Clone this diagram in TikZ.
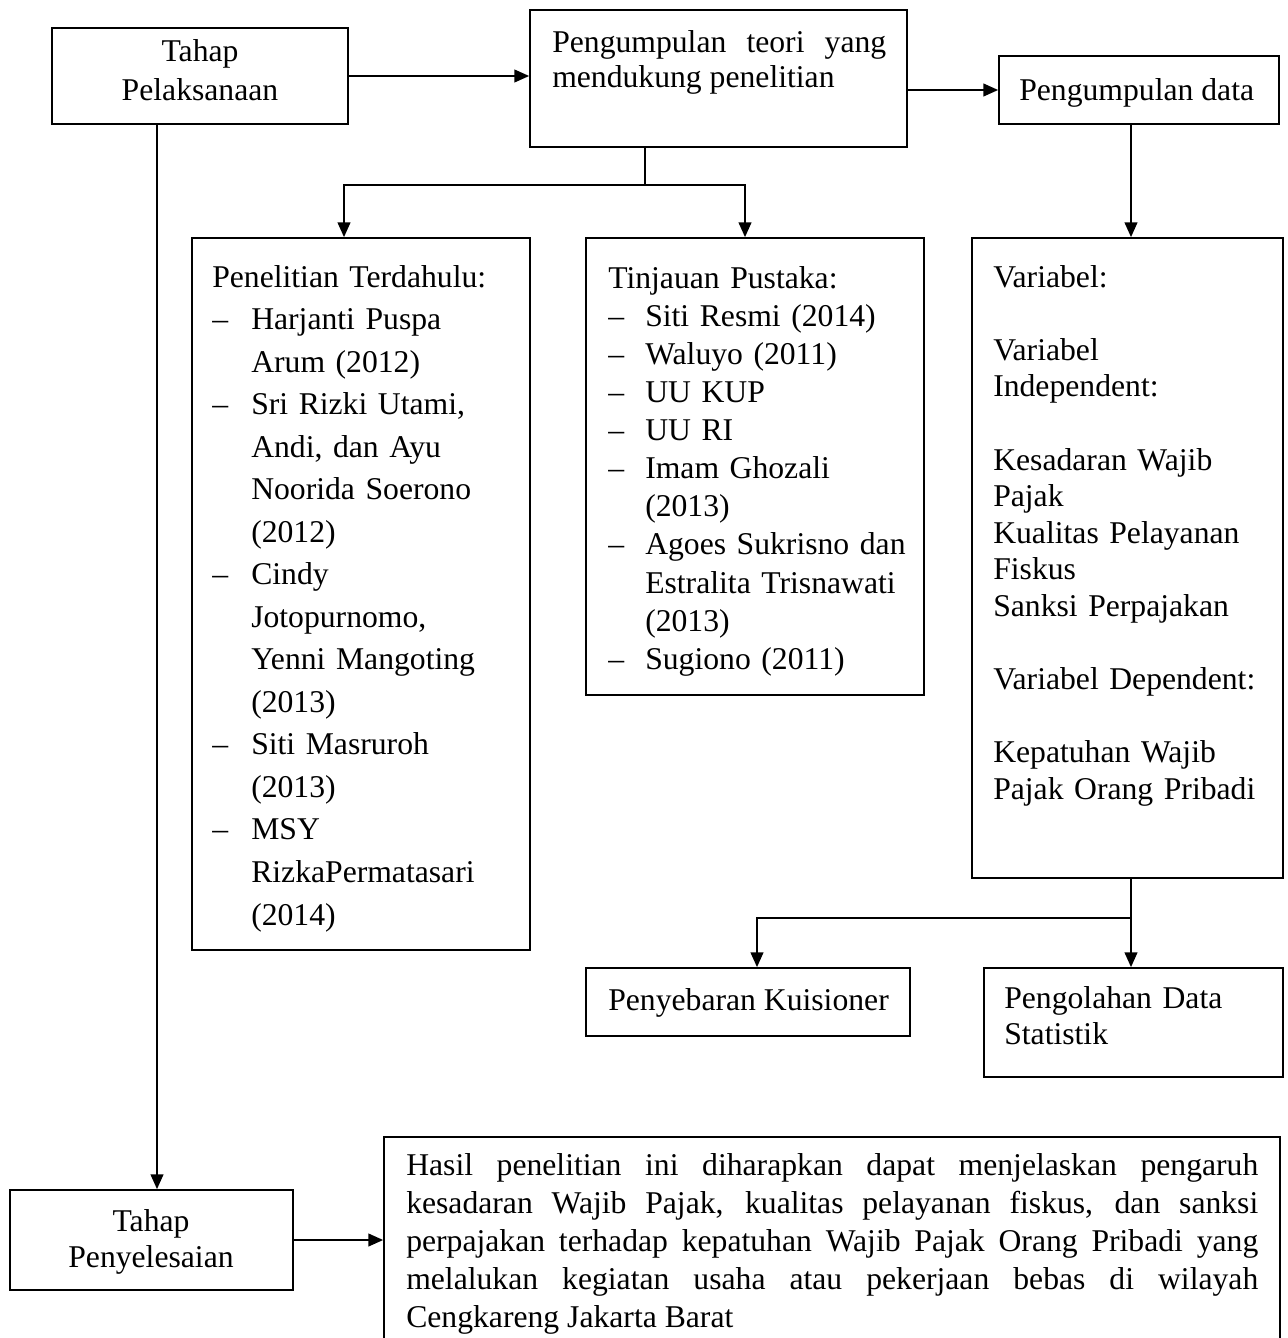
\documentclass[tikz,border=0pt]{standalone}
\usepackage{fontspec}
\setmainfont{Liberation Serif}
\usetikzlibrary{arrows.meta,fit}
\newlength{\itmind}
\newcommand{\itm}[1]{\par\hangindent=\itmind\hangafter=1\noindent\makebox[\itmind][l]{–}#1}
\begin{document}
\begin{tikzpicture}[x=0.75pt,y=-0.75pt,
  box/.style={draw, line width=1.3pt, inner sep=0pt},
  txt/.style={inner sep=0pt, anchor=base west, align=left},
  conn/.style={line width=1.3pt},
  arr/.style={conn, -{Triangle[length=11pt,width=9.5pt]}},
  nf/.style={font={\fontsize{23.75pt}{#1}\selectfont}}]
\useasboundingbox (0,0) rectangle (1288,1338);
% boxes
\node[box, fit={(52,28)(348,124)}] (tp) {};
\node[box, fit={(530,10)(907,147)}] (teori) {};
\node[box, fit={(999,56)(1279,124)}] (data) {};
\node[box, fit={(192,238)(530,950)}] (pen) {};
\node[box, fit={(586,238)(924,695)}] (tin) {};
\node[box, fit={(972,238)(1283,878)}] (var) {};
\node[box, fit={(586,968)(910,1036)}] (kui) {};
\node[box, fit={(984,968)(1283,1077)}] (olah) {};
\node[box, fit={(10,1190)(293,1290)}] (tps) {};
\node[box, fit={(384,1137)(1280,1360)}] (hasil) {};
% texts
\node[txt, nf=28.5pt, align=center, anchor=base, text width=222pt] (tpt) at (200,62) {Tahap\\Pelaksanaan};
\node[txt, nf=26.25pt, align=justify, text width=250.5pt] (teorit) at (552,53) {Pengumpulan teori yang\linebreak mendukung penelitian};
\node[txt, nf=28.5pt] (datat) at (1019,100) {Pengumpulan data};
\node[txt, nf=31.9pt, text width=240pt] (pent) at (212,287) {\raggedright\setlength{\itmind}{29.25pt}\noindent Penelitian Terdahulu:
\itm{Harjanti Puspa\newline Arum (2012)}
\itm{Sri Rizki Utami,\newline Andi, dan Ayu\newline Noorida Soerono\newline (2012)}
\itm{Cindy\newline Jotopurnomo,\newline Yenni Mangoting\newline (2013)}
\itm{Siti Masruroh\newline (2013)}
\itm{MSY\newline RizkaPermatasari\newline (2014)}\par};
\node[txt, nf=28.6pt, text width=235pt] (tint) at (608,288) {\raggedright\setlength{\itmind}{27.75pt}\noindent Tinjauan Pustaka:
\itm{Siti Resmi (2014)}
\itm{Waluyo (2011)}
\itm{UU KUP}
\itm{UU RI}
\itm{Imam Ghozali\newline (2013)}
\itm{Agoes Sukrisno dan\newline Estralita Trisnawati\newline (2013)}
\itm{Sugiono (2011)}\par};
\node[txt, nf=27.45pt, text width=220pt] (vart) at (993,287) {\raggedright Variabel:\\\mbox{}\\Variabel\\Independent:\\\mbox{}\\Kesadaran Wajib\\Pajak\\Kualitas Pelayanan\\Fiskus\\Sanksi Perpajakan\\\mbox{}\\Variabel Dependent:\\\mbox{}\\Kepatuhan Wajib\\Pajak Orang Pribadi};
\node[txt, nf=28.5pt] (kuit) at (608,1010) {Penyebaran Kuisioner};
\node[txt, nf=27pt, text width=215pt] (olaht) at (1004,1008) {Pengolahan Data\\Statistik};
\node[txt, nf=27pt, align=center, anchor=base, text width=212pt] (tpst) at (151,1231) {Tahap\\Penyelesaian};
\node[txt, nf=28.5pt, align=justify, text width=639pt] (hasilt) at (406,1175) {Hasil penelitian ini diharapkan dapat menjelaskan pengaruh\linebreak kesadaran Wajib Pajak, kualitas pelayanan fiskus, dan sanksi\linebreak perpajakan terhadap kepatuhan Wajib Pajak Orang Pribadi yang\linebreak melalukan kegiatan usaha atau pekerjaan bebas di wilayah\linebreak Cengkareng Jakarta Barat};
% connectors
\draw[arr] (tp.east) -- (tp.east -| teori.west);
\draw[arr] (data.west -| teori.east) -- (data.west);
\coordinate (b1) at (645,185);
\draw[conn] (teori.south -| b1) -- (b1);
\draw[arr] (b1) -| (pen.north -| 344,0);
\draw[arr] (b1) -| (tin.north -| 745,0);
\draw[arr] (data.south -| 1131,0) -- (var.north -| 1131,0);
\coordinate (b2) at (1131,918);
\draw[conn] (var.south -| b2) -- (b2);
\draw[arr] (b2) -- (olah.north -| b2);
\draw[arr] (b2) -| (kui.north -| 757,0);
\draw[arr] (tp.south -| 157,0) -- (tps.north -| 157,0);
\draw[arr] (tps.east) -- (tps.east -| hasil.west);
\end{tikzpicture}
\end{document}
